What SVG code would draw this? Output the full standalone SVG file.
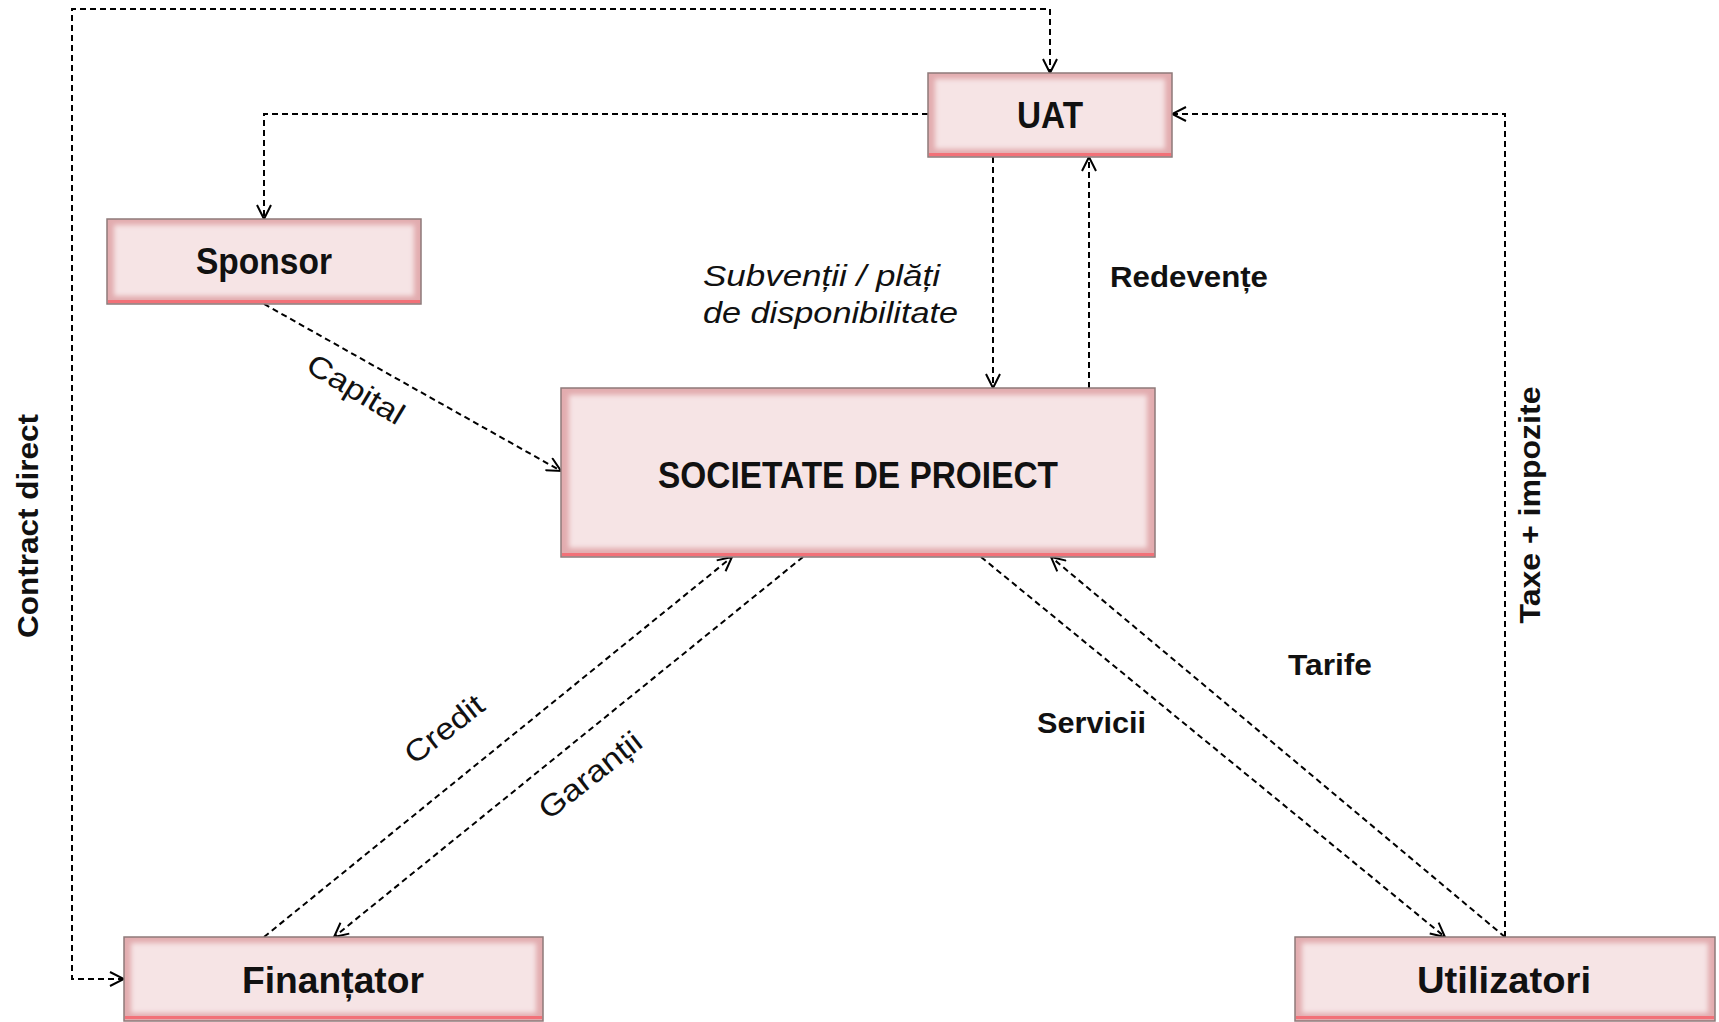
<svg xmlns="http://www.w3.org/2000/svg" width="1719" height="1022" viewBox="0 0 1719 1022">
<defs>
<style>
.outer{fill:#E2ACAF;stroke:#8E7A7A;stroke-width:1.5}
.inner{fill:#F6E4E5;filter:url(#soft)}
.bot{fill:#F27178}
.node{font-family:"Liberation Sans",Arial,sans-serif;font-weight:bold;font-size:37px;fill:#111;text-anchor:middle}
.conn{fill:none;stroke:#000;stroke-width:2;stroke-dasharray:6 4}
.lbl{font-family:"Liberation Sans",Arial,sans-serif;font-size:30px;fill:#111}
.b{font-weight:bold}
.i{font-style:italic}
.c{text-anchor:middle;dominant-baseline:central}
</style>
<filter id="soft" x="-5%" y="-10%" width="110%" height="120%"><feGaussianBlur stdDeviation="2.5"/></filter>
<marker id="arr" viewBox="0 0 16 16" refX="15" refY="8" markerWidth="16" markerHeight="16" markerUnits="userSpaceOnUse" orient="auto-start-reverse">
<path d="M1,1 L15,8 L1,15" fill="none" stroke="#000" stroke-width="2"/>
</marker>
</defs>
<rect width="1719" height="1022" fill="#fff"/>

<g id="connectors">
<path class="conn" d="M124,979 H72 V9 H1050 V73" marker-start="url(#arr)" marker-end="url(#arr)"/>
<path class="conn" d="M928,114 H264 V219" marker-end="url(#arr)"/>
<path class="conn" d="M1505,937 V114 H1172" marker-end="url(#arr)"/>
<path class="conn" d="M993,157 V388" marker-end="url(#arr)"/>
<path class="conn" d="M1089,388 V157" marker-end="url(#arr)"/>
<path class="conn" d="M264,304 L561,471" marker-end="url(#arr)"/>
<path class="conn" d="M264,937 L732,557" marker-end="url(#arr)"/>
<path class="conn" d="M803,557 L334,937" marker-end="url(#arr)"/>
<path class="conn" d="M981,557 L1445,937" marker-end="url(#arr)"/>
<path class="conn" d="M1505,937 L1051,557" marker-end="url(#arr)"/>
</g>

<g id="uat">
<rect class="outer" x="928" y="73" width="244" height="84"/>
<rect class="inner" x="935" y="79" width="230" height="70"/>
<rect class="bot" x="929" y="153" width="242" height="3"/>
<text class="node" x="1050" y="128" textLength="66" lengthAdjust="spacingAndGlyphs">UAT</text>
</g>

<g id="sponsor">
<rect class="outer" x="107" y="219" width="314" height="85"/>
<rect class="inner" x="114" y="225" width="300" height="71"/>
<rect class="bot" x="108" y="300" width="312" height="3"/>
<text class="node" x="264" y="274" textLength="136" lengthAdjust="spacingAndGlyphs">Sponsor</text>
</g>

<g id="societate">
<rect class="outer" x="561" y="388" width="594" height="169"/>
<rect class="inner" x="569" y="395" width="578" height="153"/>
<rect class="bot" x="562" y="553" width="592" height="3"/>
<text class="node" x="858" y="488" font-size="40" textLength="400" lengthAdjust="spacingAndGlyphs">SOCIETATE DE PROIECT</text>
</g>

<g id="finantator">
<rect class="outer" x="124" y="937" width="419" height="84"/>
<rect class="inner" x="131" y="943" width="405" height="70"/>
<rect class="bot" x="125" y="1016" width="417" height="3"/>
<text class="node" x="333" y="993" textLength="182" lengthAdjust="spacingAndGlyphs">Finanțator</text>
</g>

<g id="utilizatori">
<rect class="outer" x="1295" y="937" width="420" height="84"/>
<rect class="inner" x="1302" y="943" width="406" height="70"/>
<rect class="bot" x="1296" y="1016" width="418" height="3"/>
<text class="node" x="1504" y="993" textLength="174" lengthAdjust="spacingAndGlyphs">Utilizatori</text>
</g>

<g id="labels">
<text class="lbl b c" transform="translate(27,526) rotate(-90)" textLength="224" lengthAdjust="spacingAndGlyphs">Contract direct</text>
<text class="lbl b c" transform="translate(1529,505) rotate(-90)" textLength="237" lengthAdjust="spacingAndGlyphs">Taxe + impozite</text>
<text class="lbl i" x="703" y="286" textLength="237" lengthAdjust="spacingAndGlyphs">Subvenții / plăți</text>
<text class="lbl i" x="703" y="323" textLength="255" lengthAdjust="spacingAndGlyphs">de disponibilitate</text>
<text class="lbl b" x="1110" y="287" textLength="158" lengthAdjust="spacingAndGlyphs">Redevențe</text>
<text class="lbl b" x="1288" y="675" textLength="84" lengthAdjust="spacingAndGlyphs">Tarife</text>
<text class="lbl b" x="1037" y="733" textLength="109" lengthAdjust="spacingAndGlyphs">Servicii</text>
<text class="lbl c" transform="translate(356,389) rotate(31)" textLength="108" lengthAdjust="spacingAndGlyphs">Capital</text>
<text class="lbl c" transform="translate(444,729) rotate(-38)" textLength="92" lengthAdjust="spacingAndGlyphs">Credit</text>
<text class="lbl c" transform="translate(590,775) rotate(-38)" textLength="122" lengthAdjust="spacingAndGlyphs">Garanții</text>
</g>
</svg>
